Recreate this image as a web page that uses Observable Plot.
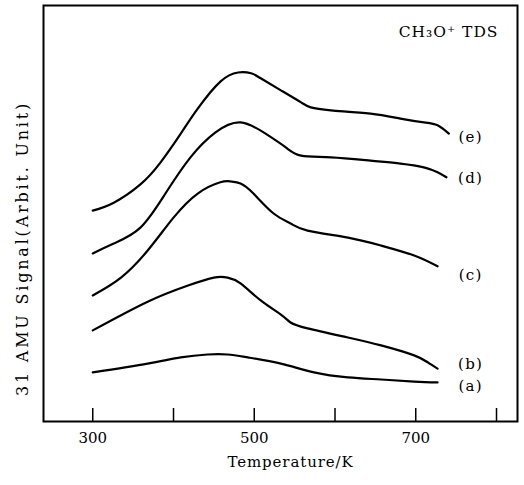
<!DOCTYPE html>
<html>
<head>
<meta charset="utf-8">
<script src="https://cdn.jsdelivr.net/npm/d3@7"></script>
<script src="https://cdn.jsdelivr.net/npm/@observablehq/plot@0.6"></script>
<style>
  html, body { margin: 0; padding: 0; background: #fff; }
  #chart svg { display: block; }
</style>
</head>
<body>
<div id="chart"></div>
<script>
// Temperature (K) and signal (arbitrary units) for each TDS trace
const temps_a = [300, 368, 409, 442, 467, 492, 533, 574, 616, 657, 698, 727];
const signal_a = [11.8, 13.9, 15.4, 16.1, 16.1, 15.4, 13.9, 11.8, 10.6, 10.1, 9.6, 9.4];

const temps_b = [300, 368, 418, 450, 467, 483, 508, 533, 545, 566, 616, 657, 698, 715, 727];
const signal_b = [21.9, 28.8, 32.7, 34.6, 34.6, 33.2, 29.1, 25.7, 23.8, 22.4, 20.2, 18.3, 15.9, 14.2, 12.7];

const temps_c = [300, 335, 368, 400, 430, 458, 471, 483, 499, 524, 545, 566, 616, 657, 698, 727];
const signal_c = [30.3, 34.6, 41.1, 49.0, 54.8, 57.5, 57.7, 57.2, 54.8, 50.0, 47.6, 45.9, 44.2, 42.3, 39.9, 37.3];

const temps_d = [300, 326, 359, 390, 421, 452, 483, 514, 539, 558, 595, 644, 681, 710, 727, 738];
const signal_d = [40.4, 42.8, 46.6, 54.8, 63.5, 69.5, 71.9, 69.2, 65.9, 63.9, 63.5, 62.7, 62.0, 61.1, 59.9, 58.7];

const temps_e = [300, 326, 359, 384, 409, 430, 458, 480, 496, 508, 533, 558, 570, 595, 644, 681, 710, 727, 741];
const signal_e = [50.7, 52.6, 57.0, 62.3, 69.2, 75.2, 81.7, 83.9, 83.7, 82.5, 79.6, 76.7, 75.5, 74.8, 74.0, 72.8, 71.9, 71.2, 69.2];

const seriesNames = ["(a)", "(b)", "(c)", "(d)", "(e)"];
const labelTemp = [768, 768, 768, 768, 768];
const labelSignal = [8.4, 13.7, 35.1, 58.4, 68.3];

const tickTemps = [300, 400, 500, 600, 700, 800];
const tickLabelTemps = [300, 500, 700];

const titleText = "CH₃O⁺ TDS";
const xLabel = "Temperature/K";
const yLabel = "31 AMU Signal(Arbit. Unit)";

const seriesTemps = [temps_a, temps_b, temps_c, temps_d, temps_e];
const seriesSignals = [signal_a, signal_b, signal_c, signal_d, signal_e];
const rows = seriesNames.flatMap((name, i) =>
  seriesTemps[i].map((t, j) => ({series: name, T: t, S: seriesSignals[i][j]}))
);
const labels = seriesNames.map((name, i) => ({name, T: labelTemp[i], S: labelSignal[i]}));

const serif = "'DejaVu Serif', 'Liberation Serif', serif";

const chart = Plot.plot({
  width: 524,
  height: 485,
  marginLeft: 43,
  marginRight: 7,
  marginTop: 5,
  marginBottom: 64,
  style: {fontFamily: serif, background: "#fff", color: "#000"},
  x: {domain: [239, 826]},
  y: {domain: [0, 100], axis: null},
  marks: [
    Plot.frame({stroke: "#000", strokeWidth: 2}),
    Plot.ruleX(tickTemps, {x: d => d, insetTop: 403, stroke: "#000", strokeWidth: 1.5}),
    Plot.axisX(tickLabelTemps, {tickSize: 0, tickPadding: 11, fontSize: 15, label: null, tickFormat: d => String(d)}),
    Plot.line(rows, {x: "T", y: "S", z: "series", stroke: "#000", strokeWidth: 2.2, curve: "natural"}),
    Plot.text(labels, {x: "T", y: "S", text: "name", fontSize: 15, fill: "#000"}),
    Plot.text([titleText], {frameAnchor: "top-right", dx: -19, dy: 20, textAnchor: "end", fontSize: 15.5, fill: "#000"}),
    Plot.text([xLabel], {frameAnchor: "bottom", dx: 10, dy: 45, textAnchor: "middle", fontSize: 15, fill: "#000"}),
    Plot.text([yLabel], {frameAnchor: "left", dx: -21, dy: 35, textAnchor: "middle", rotate: -90, fontSize: 16, fill: "#000"})
  ]
});

// letter spacing to mimic the wide typesetting of the original
const spacing = new Map([
  [yLabel, "2.8px"],
  [xLabel, "0.9px"],
  [titleText, "1px"],
  ...seriesNames.map(n => [n, "1.3px"])
]);
d3.select(chart).selectAll("text").each(function() {
  const s = spacing.get(this.textContent);
  if (s) this.setAttribute("letter-spacing", s);
});

document.getElementById("chart").appendChild(chart);
</script>
</body>
</html>
